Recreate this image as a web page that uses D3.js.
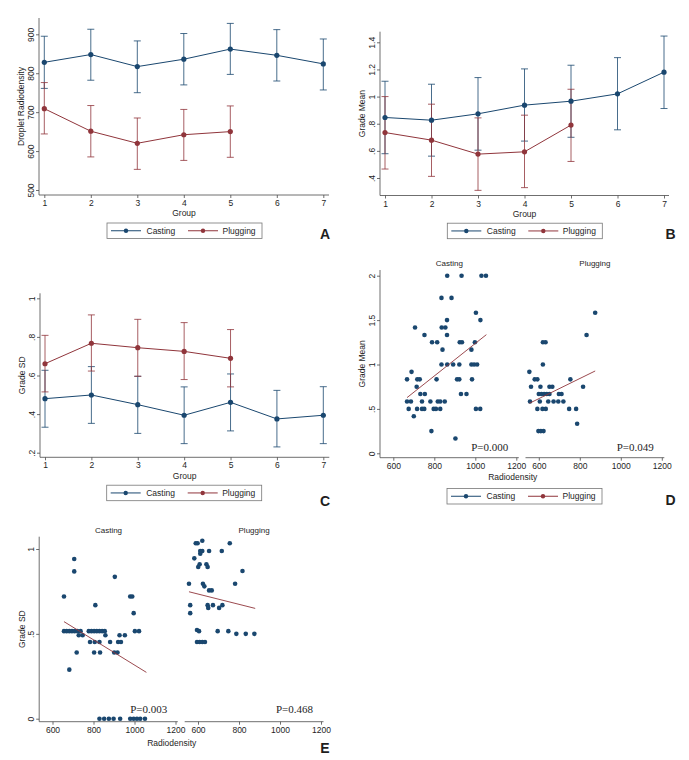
<!DOCTYPE html>
<html><head><meta charset="utf-8">
<script src="https://cdn.jsdelivr.net/npm/d3@7"></script>
<style>
body{margin:0;background:#fff}
svg text{font-family:"Liberation Sans",Arial,sans-serif;fill:#1e1e1e}
</style></head><body>
<svg id="c" width="689" height="760"></svg>
<script>
// ---------------- DATA ----------------
const groups = [1,2,3,4,5,6,7];
const plugGroups = [1,2,3,4,5];
const seriesNames = ["Casting","Plugging"];

// Panel A: Droplet Radiodensity
const aCastMean = [828,848,817,836,862,846,824];
const aCastLo   = [761,782,750,770,797,780,757];
const aCastHi   = [895,913,883,902,928,912,888];
const aPlugMean = [709,651,620,642,650];
const aPlugLo   = [644,585,553,576,584];
const aPlugHi   = [776,717,685,707,716];
const aYTicks = [500,600,700,800,900];

// Panel B: Grade Mean
const bCastMean = [0.846,0.826,0.873,0.937,0.966,1.02,1.18];
const bCastLo   = [0.579,0.561,0.605,0.672,0.700,0.755,0.912];
const bCastHi   = [1.113,1.091,1.140,1.204,1.231,1.287,1.446];
const bPlugMean = [0.735,0.679,0.576,0.593,0.790];
const bPlugLo   = [0.466,0.412,0.309,0.329,0.522];
const bPlugHi   = [1.000,0.944,0.843,0.863,1.054];
const bYTicks = [0.4,0.6,0.8,1,1.2,1.4];

// Panel C: Grade SD
const cCastMean = [0.480,0.499,0.449,0.394,0.461,0.375,0.394];
const cCastLo   = [0.332,0.352,0.300,0.247,0.313,0.230,0.247];
const cCastHi   = [0.627,0.646,0.596,0.541,0.608,0.523,0.542];
const cPlugMean = [0.661,0.767,0.744,0.725,0.689];
const cPlugLo   = [0.515,0.623,0.596,0.579,0.541];
const cPlugHi   = [0.808,0.914,0.891,0.874,0.838];
const cYTicks = [0.2,0.4,0.6,0.8,1];

// Panel D: Grade Mean vs Radiodensity
const dCastPts = [[863,2],[933,2],[1030,2],[1052,2],[835,1.75],[884,1.75],[1003,1.583],[862,1.5],[1025,1.5],
 [706,1.417],[836,1.417],[854,1.417],[752,1.333],[862,1.333],[789,1.25],[814,1.25],[924,1.25],[935,1.25],[998,1.25],
 [840,1.167],[981,1.167],[835,1],[863,1],[892,1],[922,1],[981,1],[994,1],[1009,1],[689,0.917],
 [667,0.833],[717,0.833],[729,0.833],[811,0.833],[911,0.833],[922,0.833],[984,0.833],[714,0.75],
 [732,0.667],[754,0.667],[930,0.667],[957,0.667],
 [667,0.583],[686,0.583],[740,0.583],[781,0.583],[817,0.583],[829,0.583],[851,0.583],
 [675,0.5],[716,0.5],[740,0.5],[751,0.5],[797,0.5],[808,0.5],[829,0.5],[1003,0.5],[1024,0.5],
 [700,0.417],[786,0.25],[903,0.167]];
const dPlugPts = [[875,1.583],[833,1.333],[620,1.25],[633,1.25],[620,1],[554,0.917],
 [580,0.833],[593,0.833],[754,0.833],[562,0.75],[608,0.75],[652,0.75],[666,0.75],[816,0.75],
 [600,0.667],[613,0.667],[626,0.667],[639,0.667],[652,0.667],[698,0.667],[711,0.667],
 [557,0.583],[605,0.583],[646,0.583],[672,0.583],[695,0.583],[720,0.583],
 [593,0.5],[618,0.5],[634,0.5],[748,0.5],[782,0.5],[787,0.333],[598,0.25],[610,0.25],[623,0.25]];
const dCastFit = [[667,0.627],[1054,1.336]];
const dPlugFit = [[554,0.563],[875,0.927]];
const dPvals = ["P=0.000","P=0.049"];
const dYTicks = [0,0.5,1,1.5,2];

// Panel E: Grade SD vs Radiodensity
const eCastPts = [[706,0.941],[706,0.868],[904,0.836],[656,0.72],[979,0.72],[989,0.72],[809,0.669],[996,0.622],
 [656,0.516],[669,0.516],[682,0.516],[695,0.516],[708,0.516],[721,0.516],[737,0.516],[777,0.516],[790,0.516],
 [803,0.516],[816,0.516],[829,0.516],[842,0.516],[855,0.516],[1002,0.516],[1022,0.516],
 [728,0.492],[747,0.492],[858,0.492],[927,0.492],[953,0.492],
 [783,0.452],[806,0.452],[829,0.452],[881,0.452],[920,0.452],[934,0.452],
 [718,0.39],[803,0.39],[832,0.39],[901,0.39],[917,0.39],[682,0.289],
 [829,0],[852,0],[875,0],[898,0],[930,0],[979,0],[996,0],[1012,0],[1028,0],[1051,0]];
const ePlugPts = [[621,1.049],[589,1.034],[598,1.034],[755,1.034],[611,0.988],[621,0.988],[654,0.988],[716,0.988],
 [611,0.972],[582,0.945],[608,0.91],[641,0.91],[601,0.894],[647,0.894],[817,0.87],[556,0.795],[624,0.795],[781,0.795],
 [631,0.78],[654,0.756],[667,0.756],[562,0.669],[647,0.669],[673,0.669],[719,0.669],[650,0.653],[703,0.653],[562,0.622],
 [595,0.523],[605,0.516],[696,0.516],[748,0.516],[787,0.5],[833,0.5],[875,0.5],
 [595,0.452],[608,0.452],[621,0.452],[634,0.452]];
const eCastFit = [[656,0.572],[1058,0.273]];
const ePlugFit = [[556,0.748],[879,0.65]];
const ePvals = ["P=0.003","P=0.468"];
const eYTicks = [0,0.5,1];

const xRadTicks = [600,800,1000,1200];

// ---------------- STYLE ----------------
const NAVY = "#1a476f", MAROON = "#90353b", AXIS = "#4a4a4a";
const FS = 8.5;
const svg = d3.select("#c");
const fmt = v => String(+v.toFixed(3)).replace(/^0\./, ".");

function yAxis(g, y, ticks, x0, top, bot, title) {
  const ax = g.append("g").attr("transform", `translate(${x0},0)`)
    .call(d3.axisLeft(y).tickValues(ticks).tickFormat(fmt).tickSize(3).tickSizeOuter(0));
  ax.select(".domain").remove();
  ax.selectAll("line").attr("stroke", AXIS).attr("stroke-width", 0.8);
  ax.selectAll("text").attr("x", null).attr("dy", "0.35em").attr("text-anchor", "middle")
    .attr("transform", "translate(-8,0) rotate(-90)").attr("font-size", FS).attr("fill", "#1e1e1e");
  g.append("line").attr("x1", x0).attr("x2", x0).attr("y1", top).attr("y2", bot)
    .attr("stroke", AXIS).attr("stroke-width", 0.8);
  g.append("text").attr("transform", `translate(${x0 - 17.5},${(top + bot) / 2}) rotate(-90)`)
    .attr("dy", "0.35em").attr("text-anchor", "middle").attr("font-size", FS).text(title);
}
function xAxis(g, x, ticks, y0, left, right) {
  const ax = g.append("g").attr("transform", `translate(0,${y0})`)
    .call(d3.axisBottom(x).tickValues(ticks).tickFormat(d3.format("d")).tickSize(3).tickPadding(2).tickSizeOuter(0));
  ax.select(".domain").remove();
  ax.selectAll("line").attr("stroke", AXIS).attr("stroke-width", 0.8);
  ax.selectAll("text").attr("font-size", FS).attr("fill", "#1e1e1e");
  g.append("line").attr("x1", left).attr("x2", right).attr("y1", y0).attr("y2", y0)
    .attr("stroke", AXIS).attr("stroke-width", 0.8);
}
function legend(g, x0, y0) {
  const w = 155, h = 15.5, cy = y0 + h / 2;
  g.append("rect").attr("x", x0).attr("y", y0).attr("width", w).attr("height", h)
    .attr("fill", "#fff").attr("stroke", "#777").attr("stroke-width", 0.8);
  const items = [{n: seriesNames[0], c: NAVY, lx: 4, tx: 39.5}, {n: seriesNames[1], c: MAROON, lx: 81, tx: 115.5}];
  items.forEach(it => {
    g.append("line").attr("x1", x0 + it.lx).attr("x2", x0 + it.lx + 30).attr("y1", cy).attr("y2", cy)
      .attr("stroke", it.c).attr("stroke-width", 1);
    g.append("circle").attr("cx", x0 + it.lx + 15).attr("cy", cy).attr("r", 2.2).attr("fill", it.c);
    g.append("text").attr("x", x0 + it.tx).attr("y", cy).attr("dy", "0.35em").attr("font-size", FS).text(it.n);
  });
}
function letter(g, x, y, t) {
  g.append("text").attr("x", x).attr("y", y).attr("text-anchor", "middle")
    .attr("font-size", 14).attr("font-weight", "bold").attr("fill", "#000").text(t);
}

function linePanel(cfg) {
  const g = svg.append("g");
  const x = d3.scaleLinear().domain([1, 7]).range(cfg.xr);
  const y = d3.scaleLinear().domain(cfg.yDom).range(cfg.yRng);
  yAxis(g, y, cfg.yTicks, cfg.box[0], cfg.box[2], cfg.box[3], cfg.yTitle);
  xAxis(g, x, groups, cfg.box[3], cfg.box[0], cfg.box[1]);
  g.append("text").attr("x", (cfg.box[0] + cfg.box[1]) / 2).attr("y", cfg.box[3] + 18.5)
    .attr("dy", "0.35em").attr("text-anchor", "middle").attr("font-size", FS).text("Group");
  const series = [
    {gs: groups, m: cfg.cm, lo: cfg.cl, hi: cfg.ch, c: NAVY},
    {gs: plugGroups, m: cfg.pm, lo: cfg.pl, hi: cfg.ph, c: MAROON}];
  series.forEach(s => {
    const eb = g.append("g").attr("stroke", s.c).attr("stroke-width", 0.8).attr("fill", "none");
    s.gs.forEach((gr, i) => {
      const xx = x(gr);
      eb.append("line").attr("x1", xx).attr("x2", xx).attr("y1", y(s.lo[i])).attr("y2", y(s.hi[i]));
      [s.lo[i], s.hi[i]].forEach(v => eb.append("line").attr("x1", xx - 3.5).attr("x2", xx + 3.5).attr("y1", y(v)).attr("y2", y(v)));
    });
  });
  series.forEach(s => {
    g.append("path").datum(s.gs.map((gr, i) => [gr, s.m[i]]))
      .attr("d", d3.line().x(d => x(d[0])).y(d => y(d[1])))
      .attr("fill", "none").attr("stroke", s.c).attr("stroke-width", 1);
    g.selectAll(null).data(s.gs.map((gr, i) => [gr, s.m[i]])).enter().append("circle")
      .attr("cx", d => x(d[0])).attr("cy", d => y(d[1])).attr("r", 2.6).attr("fill", s.c);
  });
  legend(g, cfg.leg[0], cfg.leg[1]);
  letter(g, cfg.let[0], cfg.let[1], cfg.let[2]);
}

function scatterPanel(cfg) {
  const g = svg.append("g");
  const y = d3.scaleLinear().domain(cfg.yDom).range(cfg.yRng);
  const [top, bot] = cfg.yBox;
  yAxis(g, y, cfg.yTicks, cfg.subs[0].box[0], top, bot, cfg.yTitle);
  cfg.subs.forEach(s => {
    const x = d3.scaleLinear().domain([600, 1200]).range(s.xr);
    xAxis(g, x, xRadTicks, bot, s.box[0], s.box[1]);
    g.append("text").attr("x", (s.box[0] + s.box[1]) / 2).attr("y", top - 4).attr("text-anchor", "middle")
      .attr("font-size", 8).text(s.title);
    g.selectAll(null).data(s.pts).enter().append("circle")
      .attr("cx", d => x(d[0])).attr("cy", d => y(d[1])).attr("r", 2.3).attr("fill", NAVY);
    g.append("path").datum(s.fit).attr("d", d3.line().x(d => x(d[0])).y(d => y(d[1])))
      .attr("fill", "none").attr("stroke", MAROON).attr("stroke-width", 0.9);
    g.append("text").attr("x", s.box[1] - 10.5).attr("y", cfg.pY).attr("text-anchor", "end")
      .style("font-family", '"Liberation Serif","Times New Roman",serif').attr("font-size", 11)
      .attr("fill", "#000").text(s.p);
  });
  g.append("text").attr("x", cfg.xTitle[0]).attr("y", cfg.xTitle[1]).attr("dy", "0.35em")
    .attr("text-anchor", "middle").attr("font-size", FS).text("Radiodensity");
  if (cfg.leg) legend(g, cfg.leg[0], cfg.leg[1]);
  letter(g, cfg.let[0], cfg.let[1], cfg.let[2]);
}

// ---------------- PANELS ----------------
linePanel({xr: [44.3, 323.3], yDom: [500, 900], yRng: [190, 34.3], box: [39, 329, 18, 195],
  yTicks: aYTicks, yTitle: "Droplet Radiodensity",
  cm: aCastMean, cl: aCastLo, ch: aCastHi, pm: aPlugMean, pl: aPlugLo, ph: aPlugHi,
  leg: [107, 223], let: [325, 238.5, "A"]});
linePanel({xr: [385, 664], yDom: [0.4, 1.4], yRng: [178, 42.3], box: [380, 669, 31.7, 195.5],
  yTicks: bYTicks, yTitle: "Grade Mean",
  cm: bCastMean, cl: bCastLo, ch: bCastHi, pm: bPlugMean, pl: bPlugLo, ph: bPlugHi,
  leg: [447.3, 223.2], let: [670.5, 238.5, "B"]});
linePanel({xr: [45, 323.3], yDom: [0.2, 1], yRng: [452.7, 298.3], box: [40, 329.3, 293.3, 457.3],
  yTicks: cYTicks, yTitle: "Grade SD",
  cm: cCastMean, cl: cCastLo, ch: cCastHi, pm: cPlugMean, pl: cPlugLo, ph: cPlugHi,
  leg: [106.7, 485.2], let: [325, 505.8, "C"]});

scatterPanel({yDom: [0, 2], yRng: [453.3, 275.7], yBox: [270, 457.7], yTicks: dYTicks, yTitle: "Grade Mean",
  subs: [
    {box: [380, 518.8], xr: [393.3, 516.3], title: seriesNames[0], pts: dCastPts, fit: dCastFit, p: dPvals[0]},
    {box: [525.5, 664.3], xr: [538.8, 661.8], title: seriesNames[1], pts: dPlugPts, fit: dPlugFit, p: dPvals[1]}],
  pY: 450.5, xTitle: [512.7, 477], leg: [447, 488.5], let: [670.5, 505.3, "D"]});

scatterPanel({yDom: [0, 1], yRng: [718.7, 549], yBox: [536.7, 721.7], yTicks: eYTicks, yTitle: "Grade SD",
  subs: [
    {box: [39.2, 177.8], xr: [52.5, 175.5], title: seriesNames[0], pts: eCastPts, fit: eCastFit, p: ePvals[0]},
    {box: [184.7, 323.5], xr: [198, 321], title: seriesNames[1], pts: ePlugPts, fit: ePlugFit, p: ePvals[1]}],
  pY: 712.8, xTitle: [171.7, 742.7], leg: null, let: [325, 753.3, "E"]});
</script></body></html>
